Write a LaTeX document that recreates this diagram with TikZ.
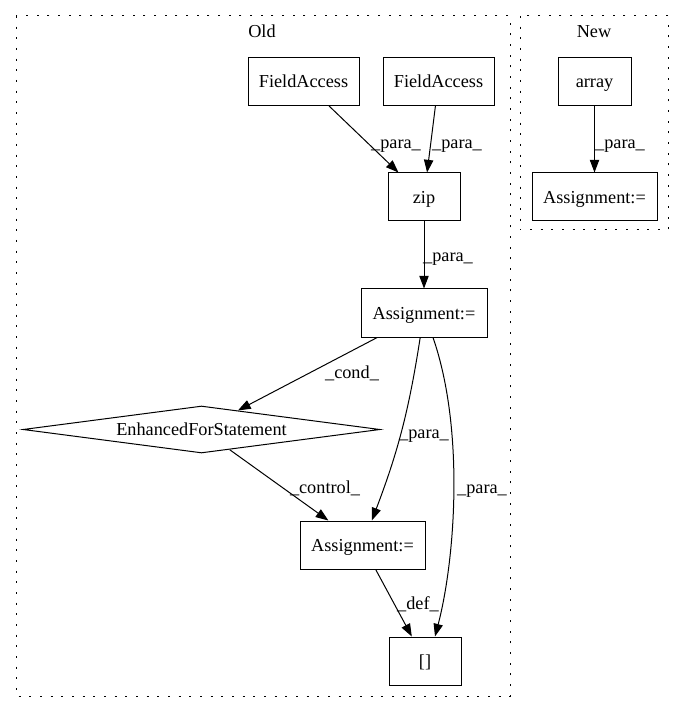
\documentclass[tikz,border=0pt]{standalone}
\usepackage{fontspec}
\setmainfont{Liberation Serif}
\usetikzlibrary{shapes.geometric,arrows.meta,calc}
\begin{document}
\begin{tikzpicture}[x=0.75pt,y=-0.75pt,
  txt/.style={font=\fontsize{13.7}{16}\selectfont},
  box/.style={txt,draw,line width=0.75pt,rectangle,minimum height=36pt,inner sep=0pt,text height=10.75pt,text depth=1.5pt},
  dia/.style={txt,draw,line width=0.75pt,diamond,shape aspect=7.6,minimum width=267.75pt,minimum height=35.25pt,inner sep=0pt,text height=10.75pt,text depth=1.5pt},
  arr/.style={line width=0.75pt,-{Triangle[length=9.5pt,width=7pt]}},
  lbl/.style={txt,inner sep=0pt,text height=10.75pt,text depth=1.5pt},
  cluster/.style={line width=0.75pt,dash pattern=on 1.5pt off 6.5pt}
]
\useasboundingbox[fill=white] (0,0) rectangle (684,712);
% clusters
\draw[cluster] (16,16) rectangle (510,696);
\draw[cluster] (520,16) rectangle (668,230);
\node[lbl] (oldlbl) at (262,31) {Old};
\node[lbl] (newlbl) at (594,31) {New};
% nodes
\node[box,minimum width=83.25pt] (fa1) at (303.5,81.5) {FieldAccess};
\node[box,minimum width=83.25pt] (fa2) at (438.5,81.5) {FieldAccess};
\node[box,minimum width=54pt] (zip) at (424,197) {zip};
\node[box,minimum width=94.5pt] (asg) at (424,313) {Assignment:=};
\node[dia] (efs) at (201.5,429.5) {EnhancedForStatement};
\node[box,minimum width=93.75pt] (asg2) at (362.5,545) {Assignment:=};
\node[box,minimum width=54pt] (brk) at (425,661) {[]};
\node[box,minimum width=54.75pt] (arr1) at (594.5,81.5) {array};
\node[box,minimum width=93.75pt] (asgn) at (594.5,197) {Assignment:=};
% edges
\draw[arr] (fa1) -- (zip);
\draw[arr] (fa2) -- (zip);
\draw[arr] (zip) -- (asg);
\draw[arr] (asg) -- (efs);
\draw[arr] (asg) to[bend left=6] (asg2);
\draw[arr] ($(asg.south)+(9,0)$) .. controls (465,430) and (455,560) .. ($(brk.north)+(10,0)$);
\draw[arr] (efs) -- (asg2);
\draw[arr] (asg2) -- (brk);
\draw[arr] (arr1) -- (asgn);
% edge labels
\node[lbl] (l1) at (396,142) {\_para\_};
\node[lbl] (l2) at (457,142) {\_para\_};
\node[lbl] (l3) at (448,255) {\_para\_};
\node[lbl] (l4) at (352,372) {\_cond\_};
\node[lbl] (l5) at (424,432) {\_para\_};
\node[lbl] (l6) at (325,487) {\_control\_};
\node[lbl] (l7) at (482,487) {\_para\_};
\node[lbl] (l8) at (418,603) {\_def\_};
\node[lbl] (l9) at (620,142) {\_para\_};
\end{tikzpicture}
\end{document}
